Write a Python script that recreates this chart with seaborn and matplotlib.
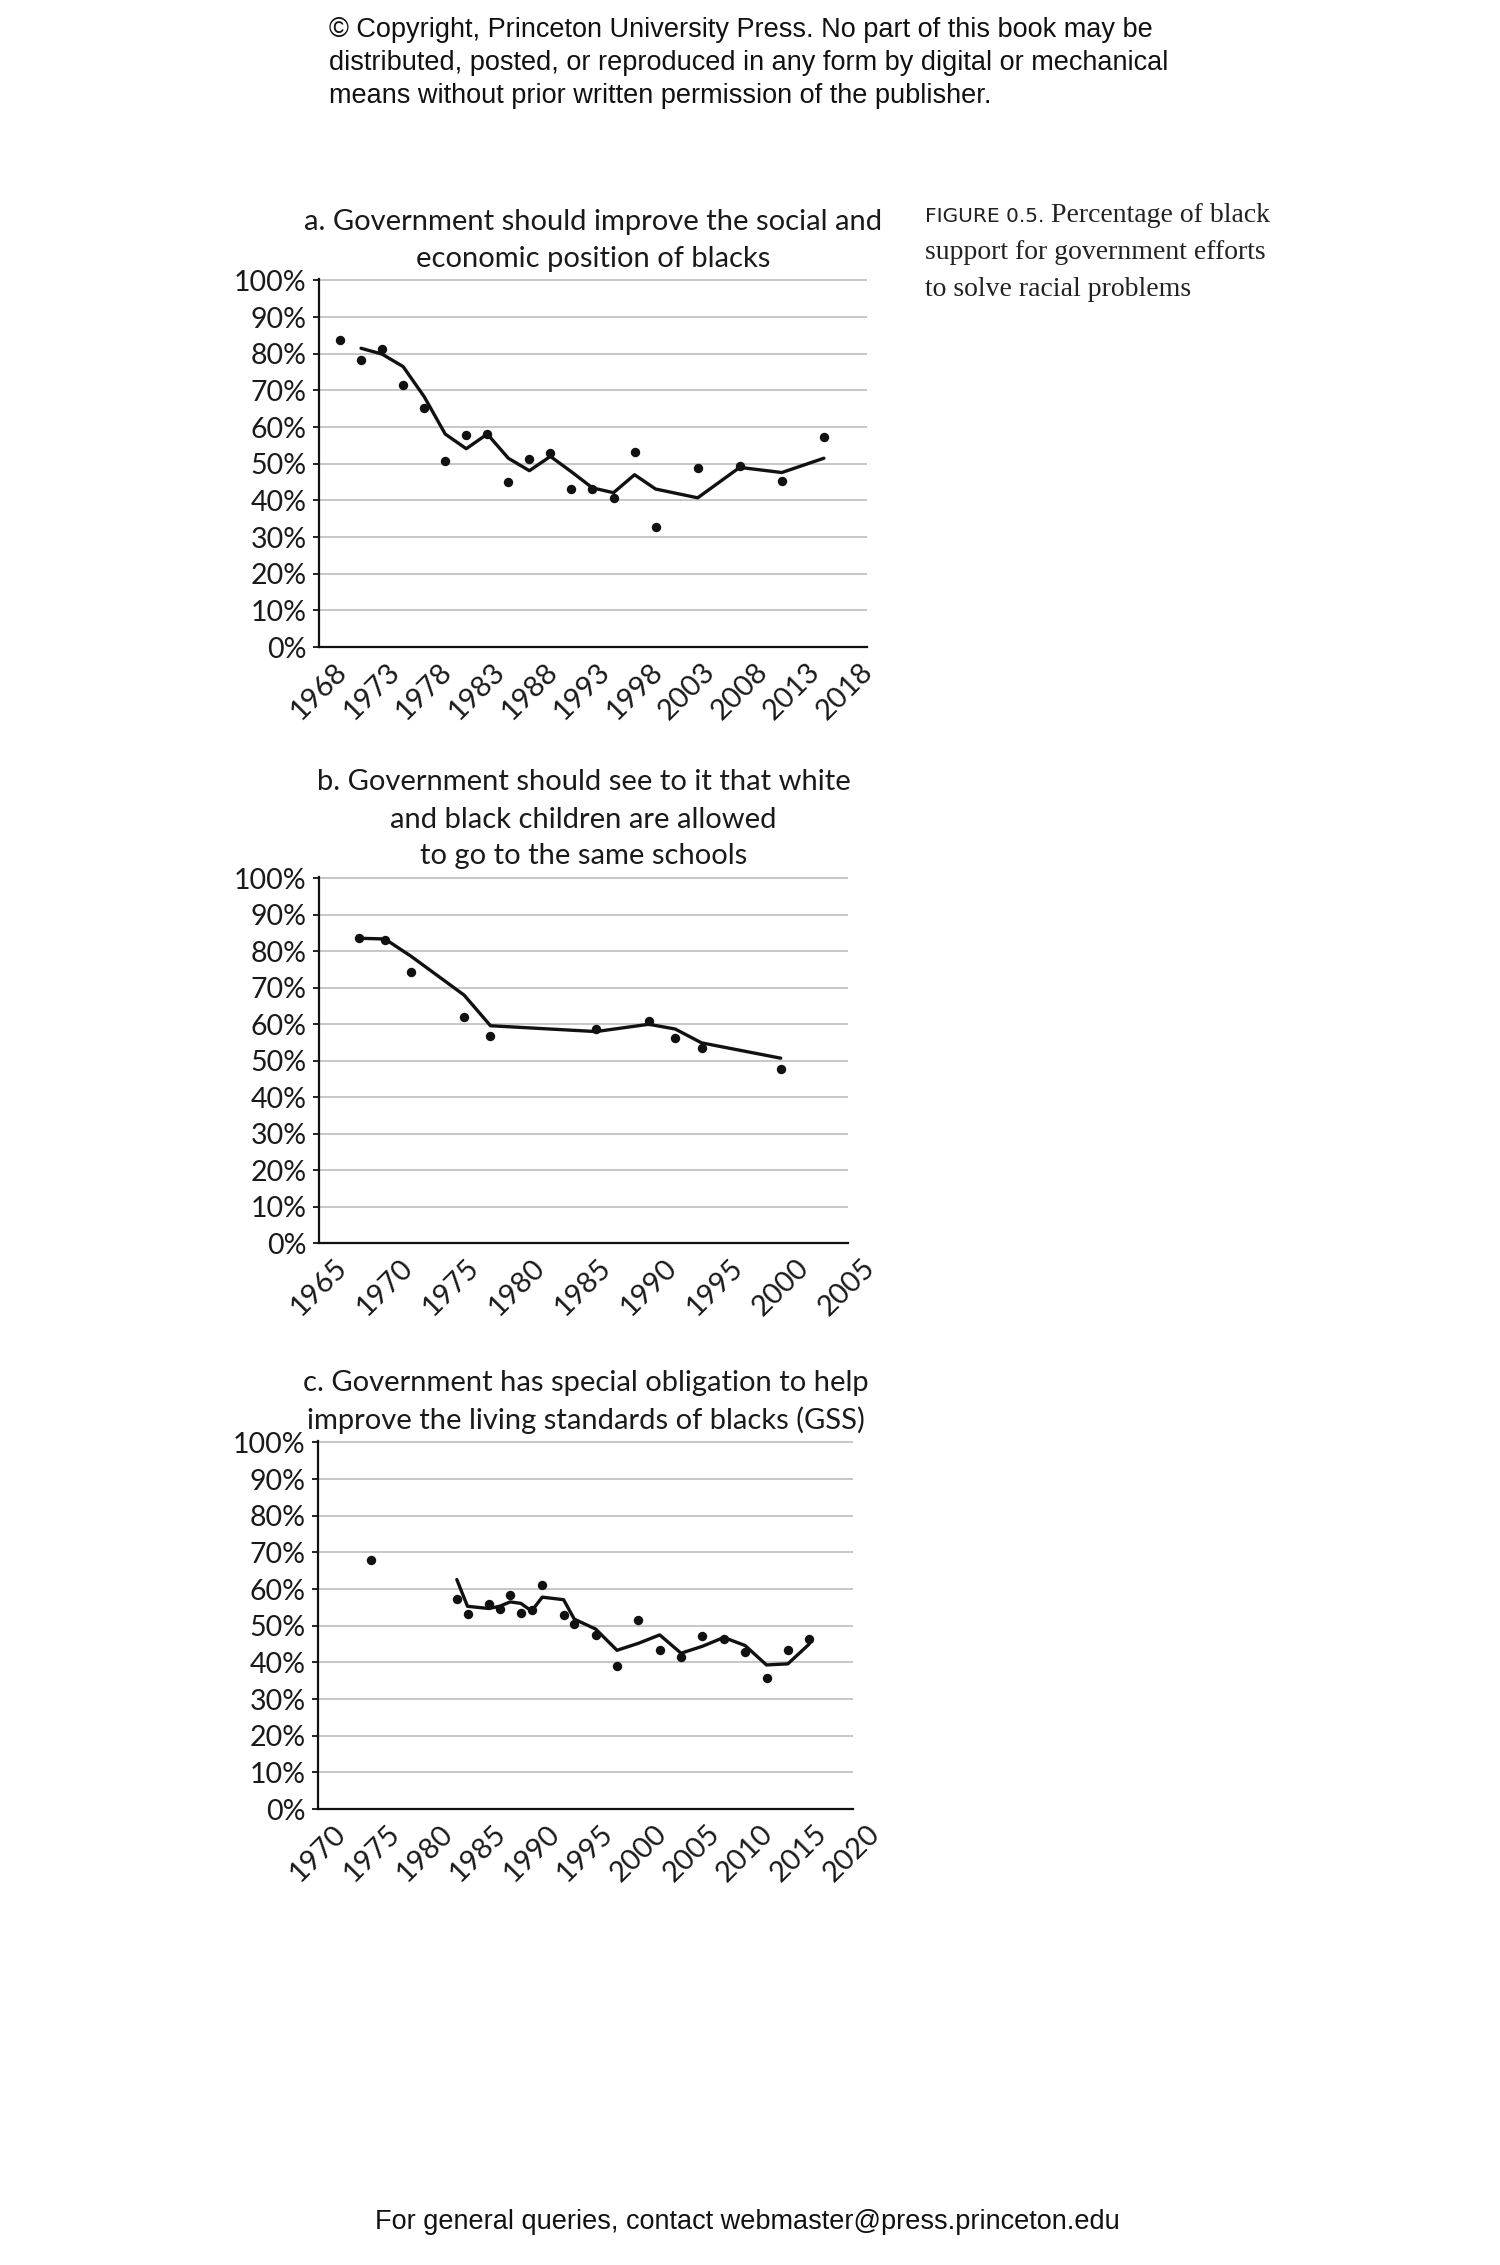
import matplotlib
matplotlib.use("Agg")
import matplotlib.pyplot as plt
import matplotlib.transforms as mtransforms
import seaborn as sns
import pandas as pd

# ---------------- data ----------------
a_point_years = [1970, 1972, 1974, 1976, 1978, 1980, 1982, 1984, 1986, 1988, 1990,
                 1992, 1994, 1996, 1998, 2000, 2004, 2008, 2012, 2016]
a_point_vals = [83.8, 78.4, 81.3, 71.6, 65.3, 50.7, 57.9, 58.2, 45.1, 51.4, 52.8,
                43.0, 43.2, 40.7, 53.1, 32.8, 48.9, 49.3, 45.4, 57.3]
a_line_years = [1972, 1974, 1976, 1978, 1980, 1982, 1984, 1986, 1988, 1990,
                1992, 1994, 1996, 1998, 2000, 2004, 2008, 2012, 2016]
a_line_vals = [81.5, 79.9, 76.5, 68.3, 58.1, 54.1, 58.1, 51.5, 48.1, 52.0,
               47.8, 43.4, 42.1, 47.0, 43.1, 40.7, 49.0, 47.6, 51.5]

b_point_years = [1968, 1970, 1972, 1976, 1978, 1986, 1990, 1992, 1994, 2000]
b_point_vals = [83.7, 83.2, 74.3, 61.9, 56.8, 58.8, 61.0, 56.3, 53.4, 47.8]
b_line_years = [1968, 1970, 1972, 1976, 1978, 1986, 1990, 1992, 1994, 2000]
b_line_vals = [83.6, 83.4, 78.6, 68.0, 59.6, 58.0, 60.0, 58.7, 54.9, 50.7]

c_point_years = [1975, 1983, 1984, 1986, 1987, 1988, 1989, 1990, 1991, 1993, 1994,
                 1996, 1998, 2000, 2002, 2004, 2006, 2008, 2010, 2012, 2014, 2016]
c_point_vals = [68.0, 57.2, 53.3, 56.0, 54.5, 58.5, 53.6, 54.4, 61.1, 53.0, 50.6,
                47.6, 38.9, 51.5, 43.4, 41.5, 47.2, 46.3, 42.8, 35.8, 43.4, 46.5]
c_line_years = [1983, 1984, 1986, 1987, 1988, 1989, 1990, 1991, 1993, 1994,
                1996, 1998, 2000, 2002, 2004, 2006, 2008, 2010, 2012, 2014, 2016]
c_line_vals = [62.6, 55.3, 54.7, 55.3, 56.5, 56.1, 54.0, 57.8, 57.1, 51.8,
               49.1, 43.3, 45.2, 47.5, 42.5, 44.4, 46.8, 44.6, 39.3, 39.6, 45.0]

a_title = ["a. Government should improve the social and",
           "economic position of blacks"]
b_title = ["b. Government should see to it that white",
           "and black children are allowed",
           "to go to the same schools"]
c_title = ["c. Government has special obligation to help",
           "improve the living standards of blacks (GSS)"]

a_xticks = [1968, 1973, 1978, 1983, 1988, 1993, 1998, 2003, 2008, 2013, 2018]
b_xticks = [1965, 1970, 1975, 1980, 1985, 1990, 1995, 2000, 2005]
c_xticks = [1970, 1975, 1980, 1985, 1990, 1995, 2000, 2005, 2010, 2015, 2020]
y_ticks = [0, 10, 20, 30, 40, 50, 60, 70, 80, 90, 100]
y_labels = ["0%", "10%", "20%", "30%", "40%", "50%", "60%", "70%", "80%", "90%", "100%"]

copyright_lines = ["\u00a9 Copyright, Princeton University Press. No part of this book may be",
                   "distributed, posted, or reproduced in any form by digital or mechanical",
                   "means without prior written permission of the publisher."]
caption_label = "FIGURE 0.5."
caption_lines = [" Percentage of black",
                 "support for government efforts",
                 "to solve racial problems"]
footer = "For general queries, contact webmaster@press.princeton.edu"

# ---------------- style ----------------
sns.set_theme(style="white")
plt.rcParams['font.family'] = ['Lato', 'DejaVu Sans']

W, H = 1500, 2265
fig = plt.figure(figsize=(W / 100, H / 100), dpi=100)
fig.patch.set_facecolor("white")


def fx(px):
    return px / W


def fy(py):
    return 1 - py / H


INK = "#111111"
TXT = "#1a1a1a"
TICK_FS = 20.5
TITLE_FS = 21

panels = [
    dict(box=(319, 279, 867, 647), xlim=(1968, 2020.1), xticks=a_xticks,
         py=a_point_years, pv=a_point_vals, ly=a_line_years, lv=a_line_vals,
         title=a_title, title_y=[222, 259]),
    dict(box=(319, 877, 848, 1243), xlim=(1965, 2005.1), xticks=b_xticks,
         py=b_point_years, pv=b_point_vals, ly=b_line_years, lv=b_line_vals,
         title=b_title, title_y=[782, 820, 856]),
    dict(box=(318, 1441, 853, 1809), xlim=(1970, 2020.1), xticks=c_xticks,
         py=c_point_years, pv=c_point_vals, ly=c_line_years, lv=c_line_vals,
         title=c_title, title_y=[1383, 1420]),
]

label_shift = mtransforms.ScaledTranslation(6 / 100, 0, fig.dpi_scale_trans)

for p in panels:
    l, t, r, b = p["box"]
    ax = fig.add_axes([fx(l), fy(b), (r - l) / W, (b - t) / H])
    ax.set_facecolor("white")
    line_df = pd.DataFrame({"year": p["ly"], "value": p["lv"]})
    pt_df = pd.DataFrame({"year": p["py"], "value": p["pv"]})
    sns.lineplot(data=line_df, x="year", y="value", ax=ax, color=INK,
                 linewidth=2.4, zorder=3)
    sns.scatterplot(data=pt_df, x="year", y="value", ax=ax, color=INK,
                    s=46, linewidth=0, zorder=4)
    ax.set_xlim(*p["xlim"])
    ax.set_ylim(0, 100.4)
    ax.set_yticks(y_ticks)
    ax.set_yticklabels(y_labels)
    ax.set_xticks(p["xticks"])
    ax.set_xticklabels([str(v) for v in p["xticks"]], rotation=45, ha="center")
    for lab in ax.get_xticklabels():
        lab.set_transform(lab.get_transform() + label_shift)
    ax.set_xlabel("")
    ax.set_ylabel("")
    ax.grid(axis="y", color="#c3c3c3", linewidth=1.3)
    ax.grid(axis="x", visible=False)
    ax.set_axisbelow(True)
    for s in ["top", "right"]:
        ax.spines[s].set_visible(False)
    for s in ["left", "bottom"]:
        ax.spines[s].set_color(INK)
        ax.spines[s].set_linewidth(1.6)
    ax.tick_params(axis="y", which="major", left=True, length=4, width=1.3,
                   color=INK, pad=5, labelsize=TICK_FS, labelcolor=TXT)
    ax.tick_params(axis="x", which="major", bottom=False, length=0, pad=8,
                   labelsize=TICK_FS + 0.5, labelcolor=TXT)
    cx = (l + r) / 2
    for line, yy in zip(p["title"], p["title_y"]):
        fig.text(fx(cx), fy(yy), line, ha="center", va="center",
                 fontsize=TITLE_FS, color=TXT)

# copyright block
for line, yy in zip(copyright_lines, [30, 63, 96]):
    fig.text(fx(329), fy(yy), line, ha="left", va="center", fontsize=19.5,
             family=["Liberation Sans", "DejaVu Sans"], color="#111111")

# footer
fig.text(fx(747), fy(2222), footer, ha="center", va="center", fontsize=19.5,
         family=["Liberation Sans", "DejaVu Sans"], color="#111111")

# caption
renderer = fig.canvas.get_renderer()
lab = fig.text(fx(925), fy(216), caption_label, ha="left", va="center",
               fontsize=14.5, family=["DejaVu Sans"], color="#222222")
bb = lab.get_window_extent(renderer=renderer)
fig.text(bb.x1 / W, fy(216), caption_lines[0], ha="left", va="center",
         fontsize=20, family=["Liberation Serif", "DejaVu Serif"], color="#222222")
for line, yy in zip(caption_lines[1:], [253, 290]):
    fig.text(fx(925), fy(yy), line, ha="left", va="center", fontsize=20,
             family=["Liberation Serif", "DejaVu Serif"], color="#222222")

fig.savefig("out.png", dpi=100, facecolor="white")
